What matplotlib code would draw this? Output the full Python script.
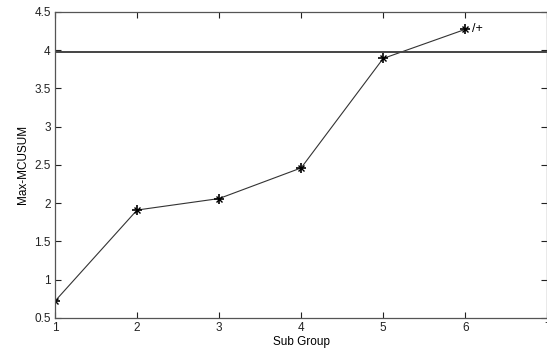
import matplotlib
matplotlib.use("Agg")
import matplotlib.pyplot as plt

sub_group = [1, 2, 3, 4, 5, 6]
max_mcusum = [0.72, 1.91, 2.06, 2.46, 3.89, 4.27]
control_limit = 3.98
xticks = [1, 2, 3, 4, 5, 6, 7]
yticks = [0.5, 1, 1.5, 2, 2.5, 3, 3.5, 4, 4.5]

plt.rcParams['font.family'] = ['Liberation Sans', 'DejaVu Sans']
fig = plt.figure(figsize=(5.47, 3.52), dpi=100)
ax = fig.add_axes([0.1005, 0.0966, 0.9, 0.87])

ax.plot(sub_group, max_mcusum, color='#333333', lw=0.8)
ax.plot(sub_group, max_mcusum, ls='none', marker='+', markersize=7,
        markeredgewidth=1.2, color='black')
ax.plot(sub_group, max_mcusum, ls='none', marker='x', markersize=4.5,
        markeredgewidth=1.0, color='black')
ax.axhline(control_limit, color='#444444', lw=1.4)
ax.text(6.08, 4.27, '/+', fontsize=9, va='center', ha='left', color='black')

ax.set_xlim(1, 7)
ax.set_ylim(0.5, 4.5)
ax.set_xticks(xticks)
ax.set_yticks(yticks)
ax.set_xticklabels([str(v) for v in xticks])
ax.set_yticklabels(['0.5', '1', '1.5', '2', '2.5', '3', '3.5', '4', '4.5'])
ax.tick_params(direction='in', length=4, width=0.8, labelsize=8.5,
               colors='#222222', top=True, right=True, pad=3)
ax.set_xlabel('Sub Group', fontsize=8.5, labelpad=1)
ax.set_ylabel('Max-MCUSUM', fontsize=8.5, labelpad=4)
for s in ax.spines.values():
    s.set_color('#555555')
    s.set_linewidth(0.9)

fig.savefig('out.png', dpi=100)
